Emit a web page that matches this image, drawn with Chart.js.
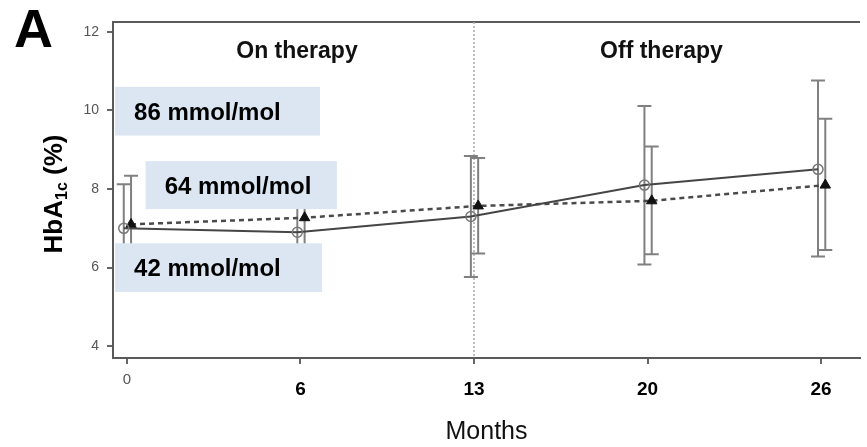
<!DOCTYPE html>
<html>
<head>
<meta charset="utf-8">
<script src="https://cdn.jsdelivr.net/npm/chart.js@4.4.0/dist/chart.umd.min.js"></script>
<style>
  body { margin: 0; background: #fff; }
  #wrap { width: 867px; height: 447px; position: relative; }
</style>
<title>HbA1c on / off therapy</title>
</head>
<body>
<div id="wrap"><canvas id="hba1c"></canvas></div>
<script>
// --- data ---
var months = ['0', '6', '13', '20', '26'];

// open circles, solid line
var circleMean  = [7.0, 6.9, 7.3, 8.1, 8.5];
var circleUpper = [8.12, 7.9, 8.84, 10.11, 10.76];
var circleLower = [5.88, 5.9, 5.76, 6.08, 6.28];

// filled triangles, dashed line
var triMean  = [7.1, 7.27, 7.57, 7.7, 8.1];
var triUpper = [8.34, 8.3, 8.79, 9.08, 9.79];
var triLower = [5.86, 6.24, 6.36, 6.34, 6.45];

var phaseLabels = ['On therapy', 'Off therapy'];
var refLabels = ['86 mmol/mol', '64 mmol/mol', '42 mmol/mol'];

var FONT = '"Liberation Sans", Arial, sans-serif';

// small sideways shift so the two series don't sit on top of each other
var DODGE_C = -0.018, DODGE_T = 0.024;

function pts(means, shift) {
  var out = [];
  for (var i = 0; i < means.length; i++) out.push({ x: i + shift, y: means[i] });
  return out;
}

// where the annotation pieces sit, in axis units
var phasePos = [{ x: 0.98, y: 11.5 }, { x: 3.08, y: 11.5 }];
var stopAt = 2; // month 13
var refBoxes = [
  { x0: -0.068, x1: 1.113, y0: 10.6, y1: 9.36 },
  { x0: 0.108, x1: 1.21, y0: 8.71, y1: 7.49 },
  { x0: -0.068, x1: 1.124, y0: 6.62, y1: 5.38 }
];

var decor = {
  id: 'decor',
  beforeDatasetsDraw: function (chart) {
    var ctx = chart.ctx, sx = chart.scales.x, sy = chart.scales.y, a = chart.chartArea;
    ctx.save();
    // top frame
    ctx.strokeStyle = '#5a5a5a';
    ctx.lineWidth = 2;
    ctx.beginPath();
    ctx.moveTo(a.left, a.top);
    ctx.lineTo(a.right, a.top);
    ctx.stroke();
    // end of therapy
    ctx.strokeStyle = '#aaa';
    ctx.lineWidth = 1.5;
    ctx.setLineDash([2, 2]);
    var px = sx.getPixelForValue(stopAt);
    ctx.beginPath();
    ctx.moveTo(px, a.top);
    ctx.lineTo(px, a.bottom);
    ctx.stroke();
    ctx.setLineDash([]);
    // error bars
    ctx.strokeStyle = '#808080';
    ctx.lineWidth = 2;
    function bars(lo, hi, shift) {
      for (var i = 0; i < lo.length; i++) {
        var x = sx.getPixelForValue(i + shift);
        var yl = sy.getPixelForValue(lo[i]), yh = sy.getPixelForValue(hi[i]);
        ctx.beginPath();
        ctx.moveTo(x, yl); ctx.lineTo(x, yh);
        ctx.moveTo(x - 7, yl); ctx.lineTo(x + 7, yl);
        ctx.moveTo(x - 7, yh); ctx.lineTo(x + 7, yh);
        ctx.stroke();
      }
    }
    bars(circleLower, circleUpper, DODGE_C);
    bars(triLower, triUpper, DODGE_T);
    ctx.restore();
  },
  afterDatasetsDraw: function (chart) {
    var ctx = chart.ctx, sx = chart.scales.x, sy = chart.scales.y;
    ctx.save();
    // reference boxes
    for (var i = 0; i < refBoxes.length; i++) {
      var b = refBoxes[i];
      var l = sx.getPixelForValue(b.x0), r = sx.getPixelForValue(b.x1);
      var t = sy.getPixelForValue(b.y0), btm = sy.getPixelForValue(b.y1);
      ctx.fillStyle = '#dce6f2';
      ctx.fillRect(l, t, r - l, btm - t);
      ctx.fillStyle = '#000';
      ctx.font = 'bold 24px ' + FONT;
      ctx.textAlign = 'left';
      ctx.textBaseline = 'alphabetic';
      ctx.fillText(refLabels[i], l + 19, (t + btm) / 2 + 8.5);
    }
    // phase headings
    ctx.font = 'bold 23px ' + FONT;
    ctx.textAlign = 'center';
    ctx.textBaseline = 'middle';
    ctx.fillStyle = '#111';
    for (var j = 0; j < phaseLabels.length; j++) {
      ctx.fillText(phaseLabels[j], sx.getPixelForValue(phasePos[j].x), sy.getPixelForValue(phasePos[j].y));
    }
    ctx.restore();
  },
  afterDraw: function (chart) {
    var ctx = chart.ctx;
    ctx.save();
    ctx.fillStyle = '#000';
    // panel letter
    ctx.font = 'bold 54px ' + FONT;
    ctx.textAlign = 'left';
    ctx.textBaseline = 'alphabetic';
    ctx.fillText('A', 14, 47);
    // y title with subscript
    var big = 'bold 26px ' + FONT, small = 'bold 16px ' + FONT;
    ctx.font = big; var w1 = ctx.measureText('HbA').width, w3 = ctx.measureText(' (%)').width;
    ctx.font = small; var w2 = ctx.measureText('1c').width;
    var cy = (chart.chartArea.top + chart.chartArea.bottom) / 2;
    ctx.translate(53, cy + 4);
    ctx.rotate(-Math.PI / 2);
    var s = -(w1 + w2 + w3) / 2;
    ctx.font = big; ctx.fillText('HbA', s, 9);
    ctx.font = small; ctx.fillText('1c', s + w1, 14);
    ctx.font = big; ctx.fillText(' (%)', s + w1 + w2, 9);
    ctx.restore();
  }
};

new Chart(document.getElementById('hba1c'), {
  type: 'line',
  data: {
    datasets: [{
      label: 'circles',
      data: pts(circleMean, DODGE_C),
      borderColor: '#454545',
      borderWidth: 2,
      pointStyle: 'circle',
      pointRadius: 5,
      pointBorderColor: '#777',
      pointBorderWidth: 1.5,
      pointBackgroundColor: 'rgba(255,255,255,0)',
      tension: 0
    }, {
      label: 'triangles',
      data: pts(triMean, DODGE_T),
      borderColor: '#4a4a4a',
      borderWidth: 2.5,
      borderDash: [5, 4],
      pointStyle: 'triangle',
      pointRadius: 6,
      pointBorderColor: '#111',
      pointBorderWidth: 1,
      pointBackgroundColor: '#111',
      tension: 0
    }]
  },
  options: {
    responsive: true,
    maintainAspectRatio: false,
    devicePixelRatio: 1,
    animation: false,
    layout: { padding: { top: 22, right: 0, bottom: 0, left: 0 } },
    plugins: { legend: { display: false }, tooltip: { enabled: false } },
    scales: {
      x: {
        type: 'linear',
        min: -0.08,
        max: 4.224,
        border: { display: true, color: '#5a5a5a', width: 2 },
        grid: { drawOnChartArea: false, drawTicks: true, tickLength: 6, color: '#666', lineWidth: 2 },
        ticks: {
          stepSize: 1,
          includeBounds: false,
          padding: 10,
          maxRotation: 0,
          callback: function (v) { return months[v]; },
          color: function (c) { return c.index === 0 ? '#555' : '#000'; },
          font: function (c) {
            return c.index === 0
              ? { family: FONT, size: 15, lineHeight: '12px' }
              : { family: FONT, size: 19, weight: 'bold', lineHeight: '32px' };
          }
        },
        title: {
          display: true,
          text: 'Months',
          color: '#111',
          font: { family: FONT, size: 25 },
          padding: { top: 1, bottom: 0 }
        }
      },
      y: {
        min: 3.7,
        max: 12.25,
        border: { display: true, color: '#5a5a5a', width: 2 },
        grid: { drawOnChartArea: false, drawTicks: true, tickLength: 6, color: '#666', lineWidth: 2 },
        ticks: {
          stepSize: 2,
          includeBounds: false,
          padding: 8,
          color: '#555',
          font: { family: FONT, size: 14 }
        },
        afterFit: function (s) { s.width = 113; }
      }
    }
  },
  plugins: [decor]
});
</script>
</body>
</html>
